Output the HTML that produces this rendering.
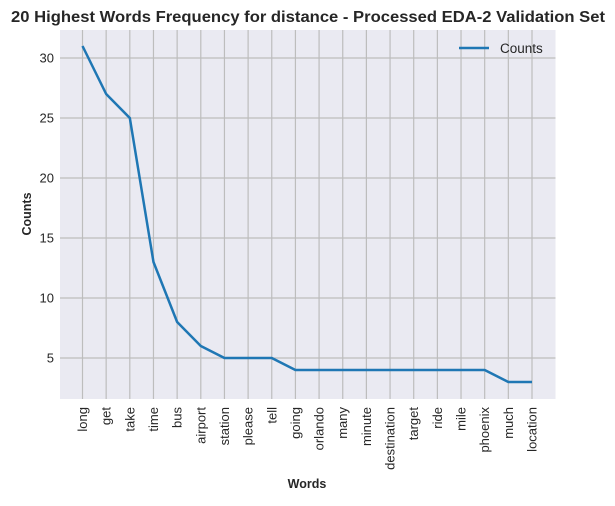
<!DOCTYPE html>
<html><head><meta charset="utf-8"><style>
body{margin:0;background:#fff;font-family:"Liberation Sans",Arial,sans-serif;}
svg text{font-family:"Liberation Sans",Arial,sans-serif;fill:#262626;}
</style></head><body>
<svg id="chart" width="615" height="501">
<text x="308" y="22" text-anchor="middle" font-size="15.5" font-weight="bold" textLength="594" lengthAdjust="spacingAndGlyphs">20 Highest Words Frequency for distance - Processed EDA-2 Validation Set</text>
<rect x="60" y="30" width="495.5" height="369" fill="#eaeaf2"/>
<g id="grid"></g>
<g id="xt"></g>
<g id="yt"></g>
<path id="line" fill="none" stroke="#1f77b4" stroke-width="2.5" stroke-linejoin="round"/>
<g>
<line x1="459" y1="48" x2="489" y2="48" stroke="#1f77b4" stroke-width="2.5"/>
<text x="500" y="53" font-size="13.5">Counts</text>
</g>
<text x="307" y="488" text-anchor="middle" font-size="12.5" font-weight="bold">Words</text>
<text transform="translate(31,214) rotate(-90)" text-anchor="middle" font-size="12.5" font-weight="bold">Counts</text>
</svg>
<script>
const words=["long","get","take","time","bus","airport","station","please","tell","going","orlando","many","minute","destination","target","ride","mile","phoenix","much","location"];
const counts=[31,27,25,13,8,6,5,5,5,4,4,4,4,4,4,4,4,4,3,3];
const yTicks=[5,10,15,20,25,30];
const NS="http://www.w3.org/2000/svg";
function xs(i){return 82.5+i*(532-82.5)/(words.length-1);}
function ys(v){return 358-(v-5)*12;}
const grid=document.getElementById('grid'),xt=document.getElementById('xt'),yt=document.getElementById('yt');
function mk(t,a){const e=document.createElementNS(NS,t);for(const k in a)e.setAttribute(k,a[k]);return e;}
words.forEach((w,i)=>{
 const l=mk('line',{x1:xs(i),x2:xs(i),y1:30,y2:399,stroke:'#bdbdbd','stroke-width':1.2});
 
 
 grid.appendChild(l);
 const t=mk('text',{transform:`translate(${xs(i)+4.5},407) rotate(-90)`,'text-anchor':'end','font-size':13});
 t.textContent=w;
 
 
 xt.appendChild(t);
});
yTicks.forEach(v=>{
 const l=mk('line',{x1:60,x2:555.5,y1:ys(v),y2:ys(v),stroke:'#bdbdbd','stroke-width':1.2});
 
 
 grid.appendChild(l);
 const t=mk('text',{x:54,y:ys(v)+4.5,'text-anchor':'end','font-size':13});
 t.textContent=v;
 
 
 yt.appendChild(t);
});
document.getElementById('line').setAttribute('d',counts.map((c,i)=>(i?'L':'M')+xs(i)+','+ys(c)).join(' '));
</script>
</body></html>
